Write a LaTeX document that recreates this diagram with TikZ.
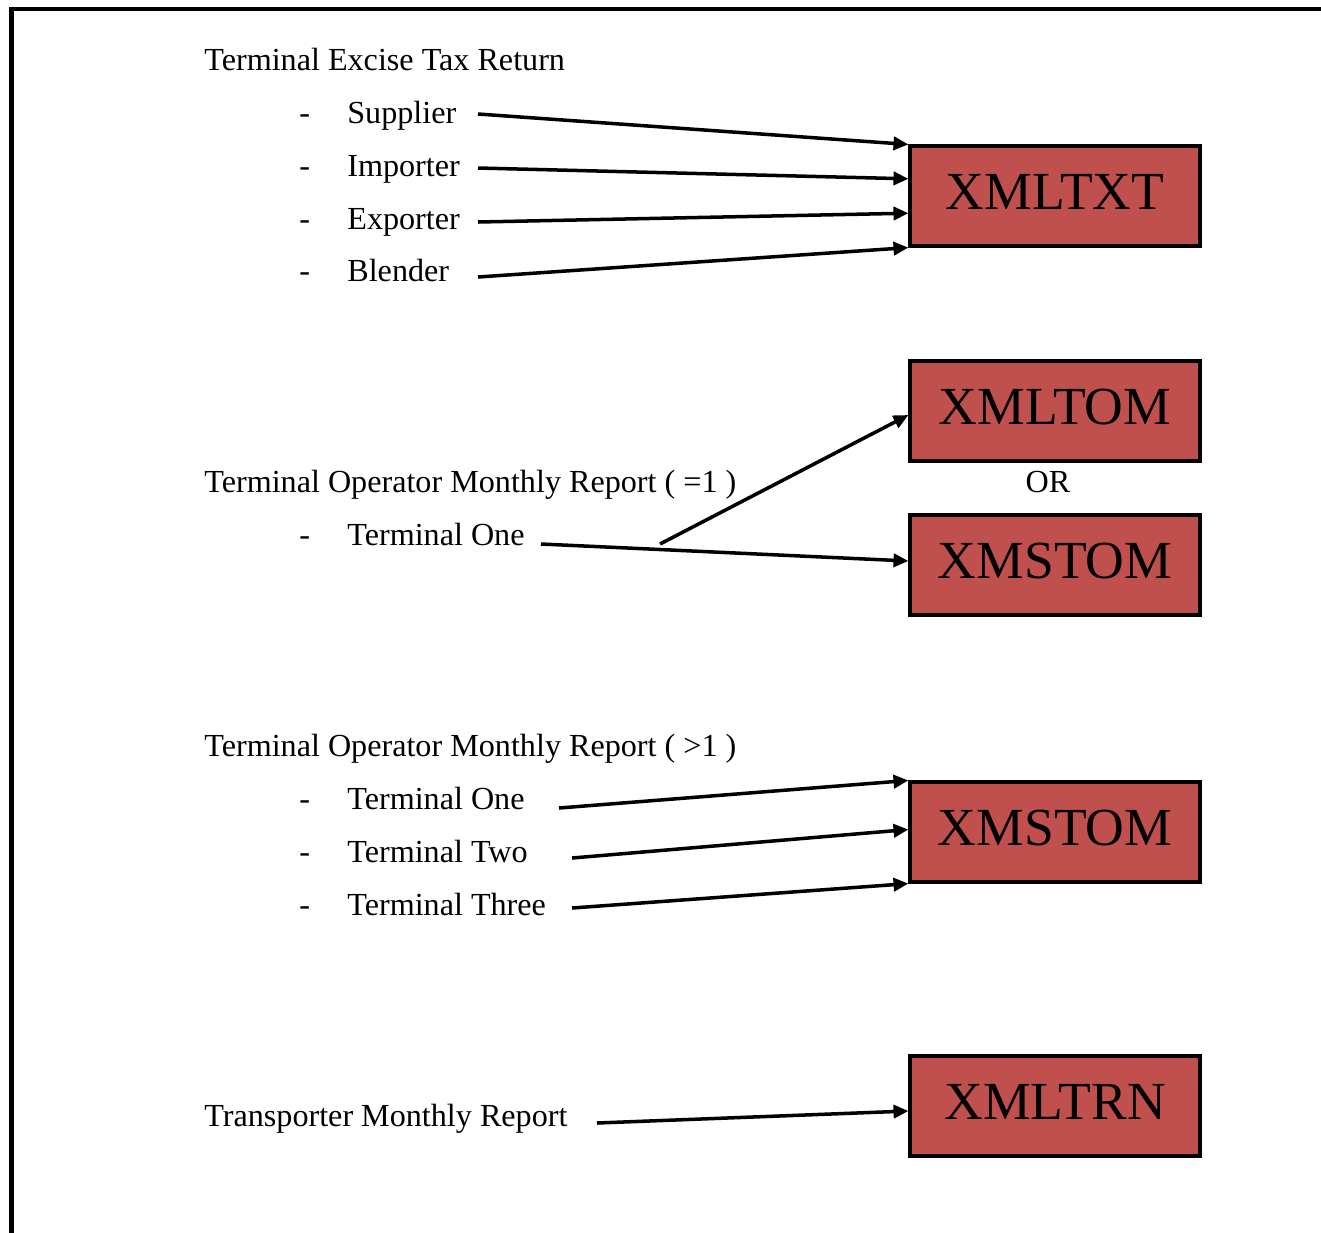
\documentclass[tikz,border=0pt]{standalone}
\usepackage{fontspec}
\setmainfont{Liberation Serif}
\usetikzlibrary{arrows.meta,calc}
\definecolor{boxred}{HTML}{C0504D}

\tikzset{
  formbox/.style={draw, line width=1.8pt, fill=boxred, minimum width=5.8cm,
    minimum height=2cm, inner sep=0pt, text depth=4.6pt,
    font=\fontsize{30.5}{36}\selectfont},
  itemtext/.style={anchor=base west, inner sep=0pt, font=\fontsize{18.3}{22}\selectfont},
  feed/.style={line width=2pt, -{Triangle[length=8.5pt,width=7.5pt]}},
}

\begin{document}
\begin{tikzpicture}[x=0.02cm, y=-0.02cm]
  \useasboundingbox (0,0) rectangle (1321,1232);
  % page frame
  \draw[line width=2.3pt] (11.5,1240) -- (11.5,9) -- (1330,9);

  % forms
  \node[formbox] (xmltxt) at (1055,196) {XMLTXT};
  \node[formbox] (xmltom) at (1055,411) {XMLTOM};
  \node[formbox] (xmstomone) at (1055,565) {XMSTOM};
  \node[formbox] (xmstommany) at (1055,832) {XMSTOM};
  \node[formbox] (xmltrn) at (1055,1106) {XMLTRN};
  \node[itemtext, anchor=base] (or) at (1048,492) {OR};

  % terminal excise tax return
  \node[itemtext] (excise) at (204,70) {Terminal Excise Tax Return};
  \node[itemtext] (dashsup) at (299,123) {-};
  \node[itemtext] (supplier) at (347,123) {Supplier};
  \node[itemtext] (dashimp) at (299,176) {-};
  \node[itemtext] (importer) at (347,176) {Importer};
  \node[itemtext] (dashexp) at (299,229) {-};
  \node[itemtext] (exporter) at (347,229) {Exporter};
  \node[itemtext] (dashble) at (299,281) {-};
  \node[itemtext] (blender) at (347,281) {Blender};

  \coordinate (supplier-out) at (478,114);
  \coordinate (importer-out) at (478,168);
  \coordinate (exporter-out) at (478,222);
  \coordinate (blender-out) at (478,277);
  \draw[feed] (supplier-out) -- (xmltxt.north west);
  \draw[feed] (importer-out) -- ($(xmltxt.north west)!1/3!(xmltxt.south west)$);
  \draw[feed] (exporter-out) -- ($(xmltxt.north west)!2/3!(xmltxt.south west)$);
  \draw[feed] (blender-out) -- (xmltxt.south west);

  % terminal operator, one terminal
  \node[itemtext] (torone) at (204,492) {Terminal Operator Monthly Report ( =1 )};
  \node[itemtext] (dashone) at (299,545) {-};
  \node[itemtext] (termone) at (347,545) {Terminal One};

  \coordinate (termone-out) at (541,544);
  \coordinate (termone-split) at (660,544);
  \draw[feed] (termone-out) -- ([yshift=0.08cm]xmstomone.west);
  \draw[feed] (termone-split) -- ([yshift=-0.08cm]xmltom.west);

  % terminal operator, several terminals
  \node[itemtext] (tormany) at (204,756) {Terminal Operator Monthly Report ( >1 )};
  \node[itemtext] (dashmone) at (299,809) {-};
  \node[itemtext] (mone) at (347,809) {Terminal One};
  \node[itemtext] (dashmtwo) at (299,862) {-};
  \node[itemtext] (mtwo) at (347,862) {Terminal Two};
  \node[itemtext] (dashmthree) at (299,915) {-};
  \node[itemtext] (mthree) at (347,915) {Terminal Three};

  \coordinate (mone-out) at (559,808);
  \coordinate (mtwo-out) at (572,858);
  \coordinate (mthree-out) at (572,908);
  \draw[feed] (mone-out) -- (xmstommany.north west);
  \draw[feed] (mtwo-out) -- ([yshift=0.05cm]xmstommany.west);
  \draw[feed] (mthree-out) -- (xmstommany.south west);

  % transporter
  \node[itemtext] (transp) at (204,1126) {Transporter Monthly Report};
  \coordinate (transp-out) at (597,1123);
  \draw[feed] (transp-out) -- ([yshift=-0.1cm]xmltrn.west);
\end{tikzpicture}
\end{document}
